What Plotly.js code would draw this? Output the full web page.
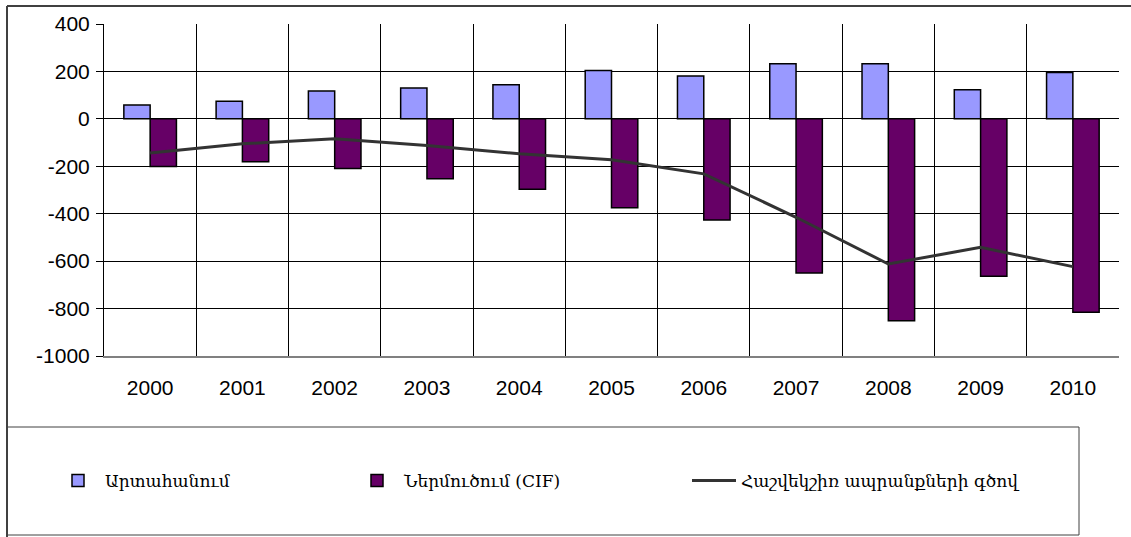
<!DOCTYPE html>
<html>
<head>
<meta charset="utf-8">
<script src="https://cdn.plot.ly/plotly-3.0.1.min.js"></script>
<style>html,body{margin:0;padding:0;background:#fff;}#chart{width:1131px;height:537px;}</style>
</head>
<body>
<div id="chart"></div>
<script>
const years = ['2000','2001','2002','2003','2004','2005','2006','2007','2008','2009','2010'];
const exportsVals = [58, 74, 117, 130, 144, 204, 181, 232, 232, 123, 195];
const importsVals = [-201, -181, -209, -253, -297, -375, -426, -650, -851, -664, -815];
const balanceVals = [-144, -105, -84, -112, -147, -172, -232, -415, -612, -542, -623];
const seriesNames = ['Արտահանում', 'Ներմուծում (CIF)', 'Հաշվեկշիռ ապրանքների գծով'];
const yTicks = [400, 200, 0, -200, -400, -600, -800, -1000];

const W = 1131, H = 537;
const L = 104, R = 1119, T = 24, B = 356;
const px = x => (x - L) / (R - L);
const py = y => (B - y) / (B - T);

const traces = [
  {type:'bar', name:seriesNames[0], x:years, y:exportsVals, legend:'legend',
   marker:{color:'#9999FF', line:{color:'#000', width:1.5}}},
  {type:'bar', name:seriesNames[1], x:years, y:importsVals, legend:'legend2',
   marker:{color:'#660066', line:{color:'#000', width:1.5}}},
  {type:'scatter', mode:'lines', name:seriesNames[2], x:years, y:balanceVals, legend:'legend3',
   line:{color:'#333333', width:3}}
];

const legFont = {family: 'DejaVu Serif, Liberation Serif, serif', size: 17, color: '#000'};
const mkLegend = xpx => ({
  orientation: 'h', x: px(xpx), xanchor: 'left', y: py(481), yanchor: 'middle',
  font: legFont, itemwidth: 44, bgcolor: 'rgba(0,0,0,0)', borderwidth: 0
});

const layout = {
  width: W, height: H,
  margin: {l: L, r: W - R, t: T, b: H - B},
  paper_bgcolor: '#fff', plot_bgcolor: '#fff',
  barmode: 'group', bargap: 0.43, bargroupgap: 0,
  showlegend: true,
  font: {family: 'Liberation Sans, Arial, sans-serif', size: 21, color: '#000'},
  xaxis: {
    type: 'category', tickson: 'boundaries', showgrid: true, gridcolor: '#000', gridwidth: 1,
    ticks: '', ticklabelstandoff: 12, showline: true, linecolor: '#808080', linewidth: 2,
    zeroline: false, tickfont: {size: 21}
  },
  yaxis: {
    range: [-1000, 400], tickvals: yTicks, ticktext: yTicks.map(String),
    showgrid: true, gridcolor: '#000', gridwidth: 1, zeroline: true, zerolinecolor: '#000', zerolinewidth: 1,
    ticks: 'outside', ticklen: 7, tickcolor: '#000', showline: true, linecolor: '#000', linewidth: 1,
    tickfont: {size: 21}, ticklabelstandoff: 2
  },
  legend: mkLegend(51),
  legend2: mkLegend(350),
  legend3: mkLegend(687),
  shapes: [
    {type:'line', xref:'paper', yref:'paper', x0:px(7), x1:px(1131), y0:py(6), y1:py(6), line:{color:'#404040', width:2}},
    {type:'line', xref:'paper', yref:'paper', x0:px(7), x1:px(7), y0:py(6), y1:py(537), line:{color:'#404040', width:2}},
    {type:'rect', xref:'paper', yref:'paper', x0:px(7), x1:px(1079), y0:py(427), y1:py(535), line:{color:'#404040', width:1}}
  ]
};

Plotly.newPlot('chart', traces, layout, {displayModeBar: false, staticPlot: true});
</script>
</body>
</html>
